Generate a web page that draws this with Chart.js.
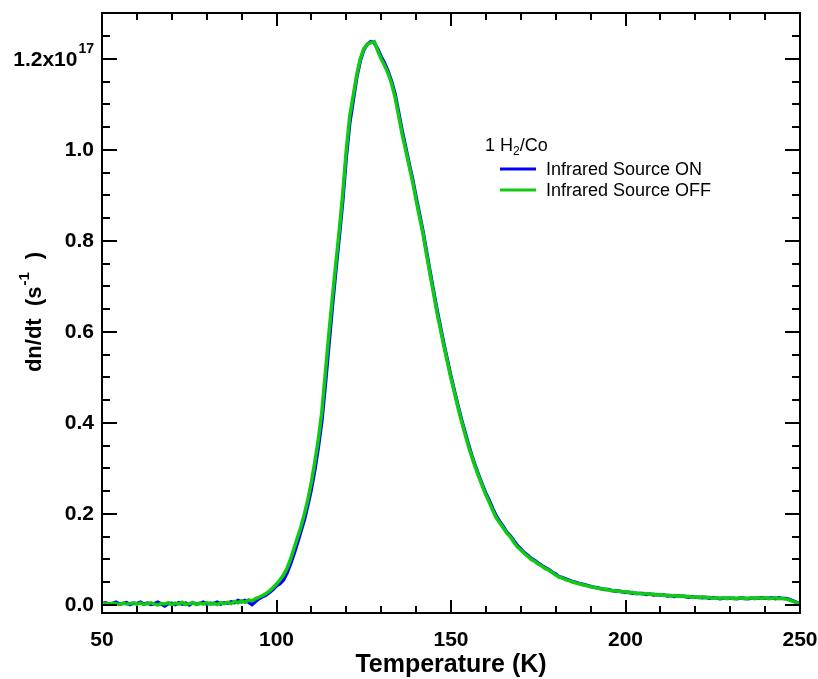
<!DOCTYPE html>
<html>
<head>
<meta charset="utf-8">
<script src="https://cdn.jsdelivr.net/npm/chart.js@4/dist/chart.umd.min.js"></script>
<style>
  html, body { margin: 0; padding: 0; background: #fff; }
  #wrap { width: 818px; height: 679px; }
</style>
</head>
<body>
<div id="wrap"><canvas id="c" width="818" height="679"></canvas></div>
<script>
// ---- data (y values in units of 1e17 s^-1) ----
const tempK = [
  50,51,52,53,54,55,56,57,58,59,60,61,62,63,64,65,66,67,68,69,
  70,71,72,73,74,75,76,77,78,79,80,81,82,83,84,85,86,87,88,89,
  90,91,92,93,94,95,96,97,98,99,100,101,102,103,104,105,106,107,108,109,
  110,111,112,113,114,115,116,117,118,119,120,121,122,123,124,125,126,127,128,129,
  130,131,132,133,134,135,136,137,138,139,140,141,142,143,144,145,146,147,148,149,
  150,151,152,153,154,155,156,157,158,159,160,161,162,163,164,165,166,167,168,169,
  170,171,172,173,174,175,176,177,178,179,180,181,182,183,184,185,186,187,188,189,
  190,191,192,193,194,195,196,197,198,199,200,201,202,203,204,205,206,207,208,209,
  210,211,212,213,214,215,216,217,218,219,220,221,222,223,224,225,226,227,228,229,
  230,231,232,233,234,235,236,237,238,239,240,241,242,243,244,245,246,247,248,249,
  250
];
const irSourceOn = [
  0.003,0.005,0.002,0.003,0.006,0.002,0.003,0.005,0.001,0.004,
  0.003,0.006,0.002,0.004,0.001,0.003,0.006,0.002,-0.002,0.003,
  0.004,0.001,0.005,0.002,0.004,0.000,0.005,0.002,0.003,0.006,
  0.002,0.004,0.003,0.006,0.002,0.005,0.004,0.007,0.005,0.010,
  0.007,0.010,0.006,0.001,0.008,0.014,0.018,0.022,0.028,0.034,
  0.042,0.047,0.055,0.070,0.090,0.112,0.136,0.162,0.188,0.220,
  0.255,0.298,0.348,0.405,0.485,0.570,0.655,0.735,0.810,0.890,
  0.985,1.060,1.110,1.160,1.196,1.220,1.232,1.238,1.236,1.222,
  1.205,1.190,1.172,1.150,1.122,1.082,1.042,1.006,0.970,0.936,
  0.896,0.858,0.820,0.776,0.732,0.690,0.648,0.610,0.572,0.537,
  0.502,0.470,0.438,0.408,0.380,0.353,0.328,0.305,0.284,0.264,
  0.245,0.229,0.211,0.195,0.183,0.172,0.160,0.152,0.141,0.131,
  0.123,0.115,0.109,0.102,0.098,0.092,0.087,0.082,0.078,0.072,
  0.068,0.062,0.060,0.057,0.054,0.051,0.049,0.047,0.045,0.043,
  0.041,0.039,0.038,0.036,0.034,0.034,0.032,0.031,0.031,0.029,
  0.028,0.028,0.026,0.026,0.025,0.025,0.023,0.024,0.022,0.023,
  0.022,0.022,0.020,0.021,0.019,0.020,0.019,0.019,0.017,0.018,
  0.017,0.017,0.016,0.017,0.015,0.016,0.016,0.014,0.015,0.015,
  0.015,0.015,0.014,0.016,0.015,0.014,0.015,0.015,0.015,0.016,
  0.015,0.015,0.016,0.014,0.016,0.014,0.014,0.012,0.009,0.006,
  0.003
];
const irSourceOff = [
  0.004,0.003,0.002,0.004,0.003,0.001,0.004,0.002,0.003,0.005,
  0.002,0.004,0.001,0.003,0.005,0.002,0.000,0.003,0.002,0.005,
  0.001,0.004,0.002,0.006,0.001,0.003,0.005,0.001,0.004,0.002,
  0.005,0.002,0.004,0.001,0.005,0.003,0.006,0.003,0.008,0.005,
  0.009,0.006,0.011,0.009,0.014,0.017,0.021,0.025,0.031,0.038,
  0.046,0.055,0.066,0.080,0.100,0.124,0.148,0.172,0.200,0.232,
  0.270,0.315,0.365,0.425,0.510,0.595,0.675,0.750,0.825,0.905,
  1.000,1.075,1.120,1.165,1.200,1.222,1.232,1.236,1.238,1.218,
  1.200,1.185,1.168,1.145,1.115,1.075,1.035,1.000,0.965,0.930,
  0.890,0.852,0.815,0.770,0.727,0.685,0.642,0.605,0.568,0.533,
  0.498,0.466,0.434,0.404,0.376,0.349,0.325,0.302,0.281,0.261,
  0.242,0.225,0.207,0.191,0.180,0.169,0.158,0.150,0.138,0.128,
  0.121,0.113,0.107,0.100,0.096,0.090,0.086,0.080,0.077,0.071,
  0.066,0.061,0.059,0.055,0.053,0.050,0.048,0.046,0.044,0.042,
  0.040,0.039,0.037,0.035,0.035,0.033,0.032,0.031,0.030,0.029,
  0.029,0.027,0.028,0.025,0.026,0.024,0.025,0.023,0.024,0.022,
  0.023,0.021,0.022,0.020,0.021,0.019,0.020,0.018,0.019,0.017,
  0.018,0.016,0.018,0.016,0.017,0.015,0.016,0.015,0.016,0.014,
  0.016,0.014,0.015,0.016,0.014,0.015,0.016,0.014,0.016,0.015,
  0.016,0.014,0.015,0.016,0.014,0.015,0.013,0.011,0.008,0.005,
  0.002
];
const seriesLabels = ['Infrared Source ON', 'Infrared Source OFF'];
const xMajorTicks = [50, 100, 150, 200, 250];
const xMinorTicks = [60,70,80,90,110,120,130,140,160,170,180,190,210,220,230,240];
const yMajorTicks = [0.0, 0.2, 0.4, 0.6, 0.8, 1.0, 1.2];
const yTickLabels = ['0.0', '0.2', '0.4', '0.6', '0.8', '1.0', '1.2x10'];
const yMinorTicks = [0.05,0.1,0.15,0.25,0.3,0.35,0.45,0.5,0.55,0.65,0.7,0.75,0.85,0.9,0.95,1.05,1.1,1.15,1.25];
const yExponent = '17';
const legendTitle = ['1 H', '2', '/Co'];
const xTitle = 'Temperature (K)';
const yTitle = ['dn/dt  (s', '-1', ')'];

const FONT = '"Liberation Sans", Arial, sans-serif';
const BLUE = 'rgb(0,0,255)';
const GREEN = 'rgb(16,204,16)';

const framePlugin = {
  id: 'frame',
  afterDraw(chart) {
    const ctx = chart.ctx;
    const a = chart.chartArea;
    const xs = chart.scales.x, ys = chart.scales.y;
    ctx.save();
    ctx.strokeStyle = '#000';
    ctx.lineWidth = 2;
    ctx.strokeRect(a.left, a.top, a.right - a.left, a.bottom - a.top);
    const MAJ = 13, MIN = 7;
    ctx.beginPath();
    const xt = (v, len) => {
      const p = Math.round(xs.getPixelForValue(v));
      ctx.moveTo(p, a.bottom); ctx.lineTo(p, a.bottom - len);
      ctx.moveTo(p, a.top); ctx.lineTo(p, a.top + len);
    };
    const yt = (v, len) => {
      const p = Math.round(ys.getPixelForValue(v));
      ctx.moveTo(a.left, p); ctx.lineTo(a.left + len, p);
      ctx.moveTo(a.right, p); ctx.lineTo(a.right - len, p);
    };
    xMajorTicks.forEach(v => xt(v, MAJ));
    xMinorTicks.forEach(v => xt(v, MIN));
    yMajorTicks.forEach(v => yt(v, MAJ + 2));
    yMinorTicks.forEach(v => yt(v, MIN + 1));
    ctx.stroke();

    // exponent tick label
    ctx.fillStyle = '#000';
    const y12 = ys.getPixelForValue(yMajorTicks[yMajorTicks.length - 1]);
    ctx.font = 'bold 14px ' + FONT;
    const ew = ctx.measureText(yExponent).width;
    ctx.textAlign = 'right';
    ctx.textBaseline = 'middle';
    ctx.fillText(yExponent, 94, y12 - 10);
    ctx.font = 'bold 21px ' + FONT;
    ctx.fillText(yTickLabels[yTickLabels.length - 1], 94 - ew - 1, y12 + 1);

    // x title
    ctx.font = 'bold 25px ' + FONT;
    ctx.textAlign = 'center';
    ctx.textBaseline = 'alphabetic';
    ctx.fillText(xTitle, (a.left + a.right) / 2, 672);

    // y title (rotated)
    ctx.save();
    ctx.translate(41, 312);
    ctx.rotate(-Math.PI / 2);
    ctx.textBaseline = 'alphabetic';
    ctx.textAlign = 'left';
    const f1 = 'bold 22px ' + FONT, f2 = 'bold 15px ' + FONT;
    ctx.font = f1; const w1 = ctx.measureText(yTitle[0]).width;
    ctx.font = f2; const w2 = ctx.measureText(yTitle[1]).width;
    ctx.font = f1; const w3 = ctx.measureText(yTitle[2]).width;
    const gap = 14;
    const tot = w1 + w2 + gap + w3;
    let x0 = -tot / 2;
    ctx.font = f1; ctx.fillText(yTitle[0], x0, 0);
    ctx.font = f2; ctx.fillText(yTitle[1], x0 + w1 + 1, -12);
    ctx.font = f1; ctx.fillText(yTitle[2], x0 + w1 + w2 + gap, 0);
    ctx.restore();

    // legend
    ctx.font = '18px ' + FONT;
    ctx.textAlign = 'left';
    ctx.textBaseline = 'alphabetic';
    let lx = 485, ly = 151;
    ctx.fillText(legendTitle[0], lx, ly);
    let w = ctx.measureText(legendTitle[0]).width;
    ctx.font = '12px ' + FONT;
    ctx.fillText(legendTitle[1], lx + w, ly + 4);
    const ws = ctx.measureText(legendTitle[1]).width;
    ctx.font = '18px ' + FONT;
    ctx.fillText(legendTitle[2], lx + w + ws, ly);
    const cols = [BLUE, GREEN];
    const rows = [169, 190];
    seriesLabels.forEach((s, i) => {
      ctx.strokeStyle = cols[i];
      ctx.lineWidth = 3;
      ctx.beginPath();
      ctx.moveTo(500, rows[i]); ctx.lineTo(536, rows[i]);
      ctx.stroke();
      ctx.fillStyle = '#000';
      ctx.textBaseline = 'middle';
      ctx.fillText(s, 546, rows[i] + 1);
    });
    ctx.restore();
  }
};

const toPts = vals => tempK.map((t, i) => ({ x: t, y: vals[i] }));
const noPad = s => { s.paddingLeft = 0; s.paddingRight = 0; s.paddingTop = 0; s.paddingBottom = 0; };

new Chart(document.getElementById('c'), {
  type: 'line',
  data: {
    datasets: [
      { label: seriesLabels[1], data: toPts(irSourceOff), borderColor: GREEN, borderWidth: 3.5,
        pointRadius: 0, tension: 0, order: 0, fill: false },
      { label: seriesLabels[0], data: toPts(irSourceOn), borderColor: BLUE, borderWidth: 3.5,
        pointRadius: 0, tension: 0, order: 1, fill: false }
    ]
  },
  options: {
    responsive: false,
    animation: false,
    layout: { padding: { left: 0, top: 13, right: 18, bottom: 0 } },
    plugins: { legend: { display: false }, tooltip: { enabled: false } },
    scales: {
      x: {
        type: 'linear', min: 50, max: 250,
        grid: { display: false, drawTicks: false },
        border: { display: false },
        afterBuildTicks: s => { s.ticks = xMajorTicks.map(v => ({ value: v })); },
        afterFit: s => { s.height = 66; noPad(s); },
        ticks: { padding: 15, color: '#000', font: { family: FONT, size: 21, weight: 'bold' },
                 maxRotation: 0, autoSkip: false, callback: v => String(v) }
      },
      y: {
        type: 'linear', min: -0.0176, max: 1.301,
        grid: { display: false, drawTicks: false },
        border: { display: false },
        afterBuildTicks: s => { s.ticks = yMajorTicks.map(v => ({ value: v })); },
        afterFit: s => { s.width = 102; noPad(s); },
        ticks: { padding: 8, color: '#000', font: { family: FONT, size: 21, weight: 'bold' },
                 autoSkip: false,
                 callback: (v) => { const i = yMajorTicks.indexOf(v); return i === yMajorTicks.length - 1 ? '' : yTickLabels[i]; } }
      }
    }
  },
  plugins: [framePlugin]
});
</script>
</body>
</html>
